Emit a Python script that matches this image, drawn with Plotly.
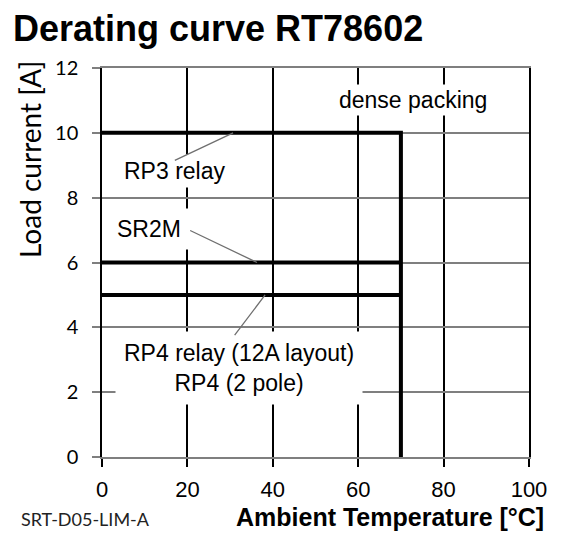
import plotly.graph_objects as go

# derating curves
temp_rp3 = [0, 70, 70]
load_rp3 = [10, 10, 0]
temp_sr2m = [0, 70]
load_sr2m = [6, 6]
temp_rp4 = [0, 70]
load_rp4 = [5, 5]

x_ticks = [0, 20, 40, 60, 80, 100]
y_ticks = [0, 2, 4, 6, 8, 10, 12]

ARIAL = "Liberation Sans"
CALIBRI = "Lato"
W, H = 564, 544

fig = go.Figure()
for xs, ys in [(temp_rp3, load_rp3), (temp_sr2m, load_sr2m), (temp_rp4, load_rp4)]:
    fig.add_trace(go.Scatter(x=xs, y=ys, mode="lines",
                             line=dict(color="black", width=4),
                             hoverinfo="skip"))

label_font = dict(family=ARIAL, size=23, color="black")

def label(text, x, y, pad):
    fig.add_annotation(x=x, y=y, text=text, showarrow=False, font=label_font,
                       bgcolor="white", borderpad=pad, align="center")

def leader(x0, y0, x1, y1):
    fig.add_annotation(x=x1, y=y1, ax=x0, ay=y0, axref="x", ayref="y", text="",
                       showarrow=True, arrowhead=0, arrowwidth=1.3,
                       arrowcolor="#6f6f6f", standoff=0, startstandoff=0)

label("dense packing", 72.8, 11.0, 2)
label("RP3 relay", 16.9, 8.82, 3)
label("SR2M", 11.0, 7.03, 7)
label("RP4 relay (12A layout)<br>RP4 (2 pole)", 32.1, 2.74, 8)

leader(16.7, 9.13, 30.7, 10)
leader(20.3, 7.01, 36.3, 6)
leader(30.8, 3.71, 38.2, 5)

# axis titles and footnote placed as free text
fig.add_annotation(xref="paper", yref="paper", x=1.0398, y=-0.154,
                   xanchor="right", yanchor="middle", showarrow=False,
                   text="<b>Ambient Temperature [°C]</b>",
                   font=dict(family=ARIAL, size=25, color="black"))
fig.add_annotation(xref="paper", yref="paper", x=-0.1686, y=0.7635,
                   xanchor="center", yanchor="middle", showarrow=False,
                   textangle=-90, text="Load current [A]",
                   font=dict(family=CALIBRI, size=28, color="black"))
fig.add_annotation(xref="paper", yref="paper", x=-0.1944, y=-0.1594,
                   xanchor="left", yanchor="middle", showarrow=False,
                   text="SRT-D05-LIM-A",
                   font=dict(family=CALIBRI, size=18, color="#222222"))

fig.update_layout(
    width=W, height=H,
    margin=dict(l=102, r=35, t=68, b=87),
    paper_bgcolor="white", plot_bgcolor="white",
    showlegend=False,
    title=dict(text="<b>Derating curve RT78602</b>", xref="container", yref="container",
               x=13 / W, xanchor="left", y=1 - 28 / H, yanchor="middle",
               font=dict(family=ARIAL, size=36, color="black")),
)
fig.update_xaxes(range=[0, 100], tickvals=x_ticks, showgrid=True, gridcolor="black",
                 gridwidth=1.5, zeroline=False, showline=True, linecolor="#7f7f7f",
                 linewidth=1.5, mirror=True, ticks="outside", ticklen=8, tickwidth=1.5,
                 tickcolor="black", ticklabelstandoff=4,
                 tickfont=dict(family=ARIAL, size=22, color="black"))
fig.update_yaxes(range=[0, 12], tickvals=y_ticks, showgrid=True, gridcolor="#7f7f7f",
                 gridwidth=1.5, zeroline=False, showline=True, linecolor="black",
                 linewidth=1.5, mirror=True, ticks="outside", ticklen=8, tickwidth=1.5,
                 tickcolor="#7f7f7f", ticklabelstandoff=10,
                 tickfont=dict(family=CALIBRI, size=20, color="black"))

# drop the page's default body margin so the figure sits at the window corner
fig.write_html("out.html", config={"displayModeBar": False},
               post_script="document.body.style.margin='0';")
